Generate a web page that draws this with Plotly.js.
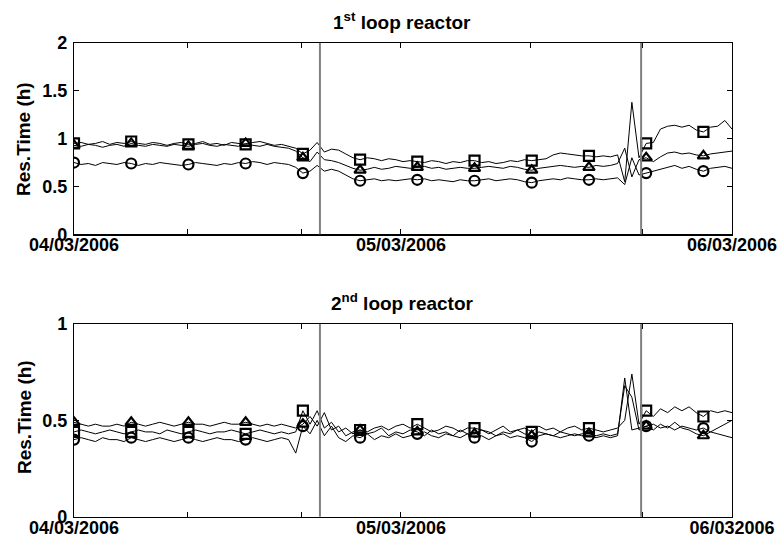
<!DOCTYPE html>
<html><head><meta charset="utf-8">
<script src="https://cdn.plot.ly/plotly-3.0.1.min.js"></script>
<style>html,body{margin:0;padding:0;background:#fff}#chart{width:781px;height:542px}</style>
</head><body><div id="chart"></div>
<script>
// ---- data ----
const hoursSpan = 48;          // 04/03/2006 00:00 -> 06/03/2006 00:00
const sampleCount = 93;
const markerEvery = 8;
const eventTimes = [17.94, 41.37];
const xTickVals = [0, 8.29, 16.6, 23.85, 33.3, 41.5, 48];
const xTickTextTop = ['04/03/2006', '', '', '05/03/2006', '', '', '06/03/2006'];
const xTickTextBottom = ['04/03/2006', '', '', '05/03/2006', '', '', '06/032006'];
const yTickValsTop = [0, 0.5, 1, 1.5, 2];
const yTickTextTop = ['0', '0.5', '1', '1.5', '2'];
const yTickValsBottom = [0, 0.5, 1];
const yTickTextBottom = ['0', '0.5', '1'];
const plotTitles = ['1<sup>st</sup> loop reactor', '2<sup>nd</sup> loop reactor'];
const yTitle = 'Res.Time (h)';

const loop1Square = [
  0.95,0.96,0.94,0.95,0.97,0.94,0.96,0.95,0.97,0.95,
  0.94,0.96,0.95,0.93,0.95,0.96,0.94,0.95,0.97,0.94,
  0.95,0.93,0.96,0.95,0.94,0.96,0.97,0.95,0.93,0.94,
  0.92,0.90,
  0.84,0.88,0.96,0.86,0.89,0.88,0.84,0.80,0.78,0.80,
  0.79,0.77,0.79,0.78,0.76,0.77,0.76,0.75,0.77,0.76,
  0.74,0.76,0.75,0.77,0.77,0.75,0.76,0.74,0.75,0.77,
  0.76,0.78,0.77,0.78,0.79,0.83,0.85,0.84,0.83,0.82,
  0.82,0.81,0.82,0.81,0.83,0.55,1.38,0.80,0.95,0.96,
  1.10,1.13,1.14,1.12,1.14,1.09,1.07,1.12,1.13,1.19,1.10
];
const loop1Triangle = [
  0.93,0.92,0.94,0.93,0.91,0.93,0.94,0.92,0.95,0.93,
  0.92,0.94,0.93,0.92,0.94,0.93,0.92,0.94,0.95,0.93,
  0.92,0.94,0.93,0.92,0.95,0.93,0.92,0.94,0.92,0.91,
  0.90,0.87,
  0.80,0.76,0.86,0.78,0.77,0.75,0.72,0.69,0.67,0.68,
  0.70,0.68,0.69,0.71,0.70,0.69,0.70,0.71,0.69,0.70,
  0.68,0.69,0.70,0.69,0.69,0.70,0.71,0.70,0.69,0.71,
  0.70,0.68,0.67,0.69,0.70,0.71,0.72,0.71,0.70,0.71,
  0.70,0.72,0.71,0.72,0.74,0.90,0.60,0.78,0.80,0.76,
  0.81,0.85,0.86,0.84,0.85,0.83,0.82,0.84,0.85,0.86,0.87
];
const loop1Circle = [
  0.75,0.73,0.74,0.72,0.75,0.74,0.73,0.75,0.74,0.72,
  0.74,0.73,0.75,0.74,0.73,0.72,0.73,0.75,0.74,0.73,
  0.72,0.74,0.73,0.75,0.74,0.76,0.75,0.73,0.75,0.74,
  0.73,0.70,
  0.64,0.66,0.72,0.66,0.68,0.66,0.62,0.58,0.56,0.57,
  0.58,0.56,0.57,0.56,0.57,0.58,0.57,0.58,0.56,0.57,
  0.56,0.55,0.57,0.56,0.56,0.57,0.58,0.56,0.57,0.58,
  0.57,0.55,0.54,0.56,0.57,0.58,0.57,0.59,0.58,0.57,
  0.57,0.58,0.57,0.58,0.59,0.52,0.80,0.62,0.64,0.66,
  0.68,0.70,0.72,0.69,0.71,0.68,0.66,0.69,0.70,0.71,0.69
];
const loop2Triangle = [
  0.49,0.48,0.47,0.48,0.47,0.47,0.48,0.47,0.49,0.48,
  0.47,0.48,0.49,0.48,0.47,0.48,0.49,0.48,0.48,0.47,
  0.48,0.49,0.48,0.48,0.49,0.48,0.47,0.48,0.47,0.48,
  0.47,0.46,
  0.48,0.52,0.47,0.54,0.45,0.47,0.42,0.44,0.45,0.43,
  0.44,0.46,0.42,0.44,0.43,0.45,0.44,0.42,0.45,0.43,
  0.44,0.42,0.45,0.43,0.43,0.45,0.44,0.42,0.44,0.43,
  0.45,0.43,0.42,0.44,0.43,0.42,0.44,0.43,0.42,0.43,
  0.43,0.42,0.43,0.42,0.43,0.68,0.62,0.45,0.47,0.45,
  0.48,0.46,0.49,0.46,0.45,0.43,0.42,0.44,0.46,0.48,0.50
];
const loop2Square = [
  0.44,0.45,0.44,0.43,0.44,0.45,0.44,0.43,0.44,0.45,
  0.44,0.44,0.43,0.45,0.44,0.43,0.44,0.45,0.44,0.43,
  0.44,0.44,0.45,0.44,0.43,0.44,0.45,0.44,0.43,0.44,
  0.43,0.44,
  0.55,0.48,0.55,0.46,0.49,0.44,0.46,0.43,0.45,0.44,
  0.46,0.47,0.45,0.47,0.48,0.46,0.48,0.46,0.44,0.45,
  0.47,0.46,0.44,0.46,0.46,0.45,0.43,0.45,0.47,0.44,
  0.45,0.46,0.44,0.47,0.45,0.46,0.44,0.46,0.47,0.45,
  0.46,0.45,0.44,0.45,0.46,0.50,0.74,0.48,0.55,0.52,
  0.56,0.54,0.57,0.55,0.57,0.54,0.52,0.55,0.54,0.55,0.54
];
const loop2Circle = [
  0.40,0.41,0.40,0.39,0.41,0.40,0.40,0.39,0.41,0.40,
  0.39,0.40,0.41,0.40,0.39,0.40,0.41,0.40,0.39,0.40,
  0.41,0.40,0.40,0.39,0.40,0.41,0.40,0.39,0.40,0.41,
  0.40,0.33,
  0.47,0.43,0.50,0.42,0.47,0.41,0.39,0.42,0.41,0.43,
  0.40,0.42,0.41,0.43,0.41,0.42,0.43,0.44,0.42,0.41,
  0.43,0.42,0.41,0.43,0.41,0.42,0.40,0.42,0.43,0.41,
  0.42,0.41,0.39,0.42,0.43,0.42,0.41,0.42,0.43,0.42,
  0.42,0.41,0.42,0.41,0.42,0.72,0.45,0.46,0.47,0.48,
  0.46,0.47,0.45,0.47,0.46,0.45,0.46,0.44,0.43,0.42,0.41
];

// ---- build ----
const time = Array.from({length: sampleCount}, (_, i) => i * hoursSpan / (sampleCount - 1));
const FONT = 'Liberation Sans, Arial, Helvetica, sans-serif';

function seriesTraces(values, symbol, xa, ya) {
  const mx = [], my = [];
  values.forEach((v, i) => { if (i % markerEvery === 0) { mx.push(time[i]); my.push(v); } });
  return [
    {x: time, y: values, xaxis: xa, yaxis: ya, type: 'scatter', mode: 'lines',
     line: {color: 'black', width: 1}, hoverinfo: 'skip'},
    {x: mx, y: my, xaxis: xa, yaxis: ya, type: 'scatter', mode: 'markers',
     marker: {symbol: symbol, size: 10, color: 'black', line: {color: 'black', width: 2.2}}, hoverinfo: 'skip'}
  ];
}

const data = [].concat(
  seriesTraces(loop1Square, 'square-open', 'x', 'y'),
  seriesTraces(loop1Triangle, 'triangle-up-open', 'x', 'y'),
  seriesTraces(loop1Circle, 'circle-open', 'x', 'y'),
  seriesTraces(loop2Triangle, 'triangle-up-open', 'x2', 'y2'),
  seriesTraces(loop2Square, 'square-open', 'x2', 'y2'),
  seriesTraces(loop2Circle, 'circle-open', 'x2', 'y2')
);

const tickFont = {family: FONT, size: 18, weight: 'bold', color: 'black'};
function xAxis(anchor, ticktext) {
  return {anchor: anchor, domain: [74/781, 732/781], range: [0, hoursSpan],
    showgrid: false, zeroline: false, showline: true, mirror: 'ticks',
    linecolor: 'black', linewidth: 1.2, ticks: 'inside', ticklen: 5, tickwidth: 1, tickcolor: 'black',
    tickmode: 'array', tickvals: xTickVals, ticktext: ticktext, tickfont: tickFont,
    ticklabelstandoff: -6, fixedrange: true};
}
function yAxis(anchor, domain, range, vals, text) {
  return {anchor: anchor, domain: domain, range: range,
    showgrid: false, zeroline: false, showline: true, mirror: 'ticks',
    linecolor: 'black', linewidth: 1.2, ticks: 'inside', ticklen: 5, tickwidth: 1, tickcolor: 'black',
    tickmode: 'array', tickvals: vals, ticktext: text, tickfont: tickFont,
    ticklabelstandoff: 2, fixedrange: true};
}

const shapes = [];
eventTimes.forEach(t => {
  [['x', 'y domain'], ['x2', 'y2 domain']].forEach(([xr, yr]) => {
    shapes.push({type: 'line', xref: xr, yref: yr, x0: t, x1: t, y0: 0, y1: 1,
      line: {color: '#808080', width: 2}, layer: 'above'});
  });
});

const titleFont = {family: FONT, size: 19, weight: 'bold', color: 'black'};
const yTitleFont = {family: FONT, size: 19, weight: 'bold', color: 'black'};
const annotations = [
  {xref: 'paper', yref: 'paper', x: 402/781, y: 1 - 21/542, text: plotTitles[0], showarrow: false,
   xanchor: 'center', yanchor: 'middle', font: titleFont},
  {xref: 'paper', yref: 'paper', x: 402/781, y: 1 - 302/542, text: plotTitles[1], showarrow: false,
   xanchor: 'center', yanchor: 'middle', font: titleFont},
  {xref: 'paper', yref: 'paper', x: 24/781, y: 1 - 139/542, text: yTitle, showarrow: false, textangle: -90,
   xanchor: 'center', yanchor: 'middle', font: yTitleFont},
  {xref: 'paper', yref: 'paper', x: 24/781, y: 1 - 417/542, text: yTitle, showarrow: false, textangle: -90,
   xanchor: 'center', yanchor: 'middle', font: yTitleFont}
];

const layout = {
  width: 781, height: 542, margin: {l: 0, r: 0, t: 0, b: 0},
  paper_bgcolor: 'white', plot_bgcolor: 'white', showlegend: false,
  font: {family: FONT, color: 'black'},
  xaxis: xAxis('y', xTickTextTop),
  yaxis: yAxis('x', [1 - 234.3/542, 1 - 43/542], [0, 2], yTickValsTop, yTickTextTop),
  xaxis2: xAxis('y2', xTickTextBottom),
  yaxis2: yAxis('x2', [1 - 516.7/542, 1 - 324/542], [0, 1], yTickValsBottom, yTickTextBottom),
  shapes: shapes,
  annotations: annotations
};

Plotly.newPlot('chart', data, layout, {displayModeBar: false, staticPlot: true});
</script>
</body></html>
